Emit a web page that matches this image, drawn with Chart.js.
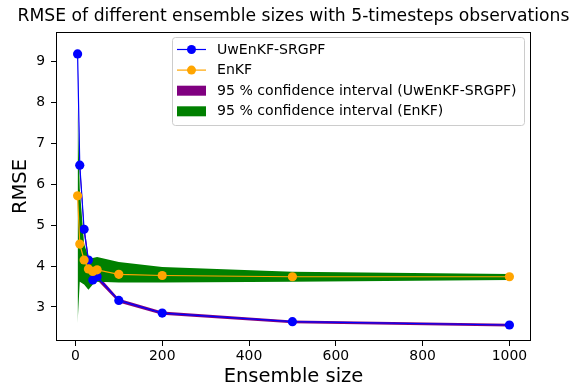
<!DOCTYPE html>
<html>
<head>
<meta charset="utf-8">
<script src="https://cdn.jsdelivr.net/npm/chart.js@4/dist/chart.umd.min.js"></script>
<style>
  html, body { margin: 0; padding: 0; background: #fff; }
  canvas { display: block; }
</style>
</head>
<body>
<canvas id="c" width="582" height="389"></canvas>
<script>
// ---- data ----
const ensembleSizes = [5, 10, 20, 30, 40, 50, 100, 200, 500, 1000];
const uwenkfRmse  = [9.19, 6.47, 4.90, 4.15, 3.66, 3.74, 3.16, 2.85, 2.64, 2.56];
const enkfRmse    = [5.72, 4.54, 4.15, 3.93, 3.87, 3.91, 3.80, 3.77, 3.74, 3.74];
const uwenkfLower = [8.98, 6.30, 4.78, 4.02, 3.58, 3.66, 3.11, 2.81, 2.60, 2.52];
const uwenkfUpper = [9.38, 6.62, 5.02, 4.24, 3.74, 3.80, 3.20, 2.89, 2.67, 2.59];
const enkfLower   = [2.60, 3.62, 3.55, 3.42, 3.55, 3.62, 3.60, 3.60, 3.62, 3.66];
const enkfUpper   = [7.90, 5.90, 4.55, 4.22, 4.20, 4.22, 4.10, 3.98, 3.86, 3.81];
const xTicks = [0, 200, 400, 600, 800, 1000];
const yTicks = [3, 4, 5, 6, 7, 8, 9];
const titleText = 'RMSE of different ensemble sizes with 5-timesteps observations';
const xLabel = 'Ensemble size';
const yLabel = 'RMSE';
const legendLabels = ['UwEnKF-SRGPF', 'EnKF', '95 % confidence interval (UwEnKF-SRGPF)', '95 % confidence interval (EnKF)'];

const FONT = "'DejaVu Sans', sans-serif";
const pts = arr => ensembleSizes.map((x, i) => ({ x: x, y: arr[i] }));

// axes title centred over the plot area (matplotlib style)
const axesTitle = {
  id: 'axesTitle',
  afterDraw(chart) {
    const { ctx, chartArea: a } = chart;
    ctx.save();
    ctx.font = '17.2px ' + FONT;
    ctx.fillStyle = '#000';
    ctx.textAlign = 'center';
    ctx.textBaseline = 'middle';
    ctx.fillText(titleText, (a.left + a.right) / 2, 16.5);
    ctx.restore();
  }
};

const frame = {
  id: 'frame',
  afterDatasetsDraw(chart) {
    const { ctx, chartArea: a } = chart;
    ctx.save();
    ctx.strokeStyle = '#000';
    ctx.lineWidth = 1;
    ctx.strokeRect(Math.round(a.left) + 0.5, Math.round(a.top) + 0.5,
                   Math.round(a.right - a.left) - 1, Math.round(a.bottom - a.top) - 1);
    ctx.restore();
  }
};

const mplLegend = {
  id: 'mplLegend',
  afterDraw(chart) {
    const c = chart.ctx;
    const x0 = 172.5, y0 = 37.5, w = 352, h = 88, r = 3;
    c.save();
    c.beginPath();
    c.moveTo(x0 + r, y0);
    c.lineTo(x0 + w - r, y0); c.arcTo(x0 + w, y0, x0 + w, y0 + r, r);
    c.lineTo(x0 + w, y0 + h - r); c.arcTo(x0 + w, y0 + h, x0 + w - r, y0 + h, r);
    c.lineTo(x0 + r, y0 + h); c.arcTo(x0, y0 + h, x0, y0 + h - r, r);
    c.lineTo(x0, y0 + r); c.arcTo(x0, y0, x0 + r, y0, r);
    c.closePath();
    c.fillStyle = 'rgba(255,255,255,0.8)';
    c.fill();
    c.strokeStyle = '#cccccc';
    c.lineWidth = 1;
    c.stroke();
    const styles = [
      { type: 'line', color: '#0000ff' },
      { type: 'line', color: '#ffa500' },
      { type: 'patch', color: '#800080' },
      { type: 'patch', color: '#008000' }
    ];
    c.font = '14.1px ' + FONT;
    c.textBaseline = 'middle';
    c.textAlign = 'left';
    legendLabels.forEach((lab, i) => {
      const cy = 49.5 + i * 20.6;
      const s = styles[i];
      if (s.type === 'line') {
        c.strokeStyle = s.color; c.lineWidth = 1.2;
        c.beginPath(); c.moveTo(177, cy); c.lineTo(206, cy); c.stroke();
        c.fillStyle = s.color;
        c.beginPath(); c.arc(191.5, cy, 4.5, 0, Math.PI * 2); c.fill();
      } else {
        c.fillStyle = s.color;
        c.fillRect(177, cy - 5, 29, 10);
      }
      c.fillStyle = '#000';
      c.fillText(lab, 217, cy + 0.5);
    });
    c.restore();
  }
};

const bandDs = (arr, color, fill, order) => ({
  data: pts(arr), fill: fill, backgroundColor: color, borderColor: 'rgba(0,0,0,0)',
  borderWidth: 0, pointRadius: 0, tension: 0, order: order
});

new Chart(document.getElementById('c'), {
  type: 'line',
  data: {
    datasets: [
      bandDs(uwenkfUpper, '#800080', '+1', 40),
      bandDs(uwenkfLower, '#800080', false, 41),
      bandDs(enkfUpper, '#008000', '+1', 30),
      bandDs(enkfLower, '#008000', false, 31),
      { label: legendLabels[0], data: pts(uwenkfRmse), borderColor: '#0000ff', backgroundColor: '#0000ff',
        borderWidth: 1.2, pointRadius: 4.6, pointBorderWidth: 0, fill: false, tension: 0, order: 20 },
      { label: legendLabels[1], data: pts(enkfRmse), borderColor: '#ffa500', backgroundColor: '#ffa500',
        borderWidth: 1.2, pointRadius: 4.6, pointBorderWidth: 0, fill: false, tension: 0, order: 10 }
    ]
  },
  options: {
    responsive: false,
    animation: false,
    events: [],
    layout: { padding: { left: 0, right: 51, top: 32, bottom: 0 } },
    plugins: {
      legend: { display: false },
      tooltip: { enabled: false },
      title: { display: false }
    },
    scales: {
      x: {
        type: 'linear', min: -44.75, max: 1049.75,
        afterBuildTicks: s => { s.ticks = xTicks.map(v => ({ value: v })); },
        afterFit: s => { s.height = 48; },
        grid: { display: true, drawOnChartArea: false, drawTicks: true, tickLength: 5, tickColor: '#000', tickWidth: 1 },
        border: { display: false },
        ticks: { color: '#000', font: { family: FONT, size: 13.9 }, padding: 2, maxRotation: 0,
                 callback: v => String(v) },
        title: { display: true, text: xLabel, color: '#000', font: { family: FONT, size: 19.5 }, padding: { top: 0, bottom: 0 } }
      },
      y: {
        type: 'linear', min: 2.168, max: 9.727,
        afterBuildTicks: s => { s.ticks = yTicks.map(v => ({ value: v })); },
        afterFit: s => { s.width = 56; },
        grid: { display: true, drawOnChartArea: false, drawTicks: true, tickLength: 5, tickColor: '#000', tickWidth: 1 },
        border: { display: false },
        ticks: { color: '#000', font: { family: FONT, size: 13.9 }, padding: 6, callback: v => String(v) },
        title: { display: true, text: yLabel, color: '#000', font: { family: FONT, size: 19.5 }, padding: { top: 9.5, bottom: 0 } }
      }
    }
  },
  plugins: [frame, mplLegend, axesTitle]
});
</script>
</body>
</html>
